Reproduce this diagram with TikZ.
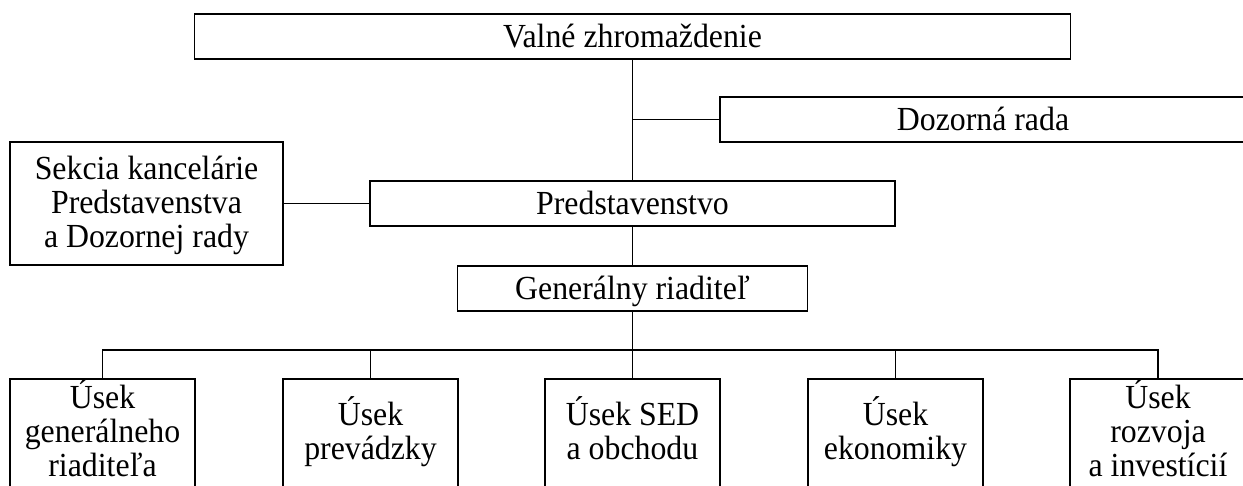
\documentclass[tikz,border=0pt]{standalone}
\usepackage{fontspec}
\setmainfont{Liberation Serif}[FakeStretch=0.944]
\usepackage{tikz}

\begin{document}
\begin{tikzpicture}[
            x = 1pt, y = -1pt, % one unit per pixel, y grows downwards
            line width = 1.7pt, % line style
            font = \fontsize{33.7}{34}\selectfont
        ]

        \tikzstyle{unit}=[
            draw = black,
            rectangle,
            align = center,
            inner sep = 0pt
        ]
        \tikzstyle{board}=[
            unit,
            minimum height = 45pt,
            text height = 22.3pt, % caps centred in the box
            text depth = 0pt
        ]
        \tikzstyle{section}=[
            unit,
            minimum height = 111pt,
            text depth = 12pt % lift the lines towards the top
        ]

        \useasboundingbox (0,0) rectangle (1243,486);

        \node[board, minimum width = 876pt] (vz) at (632.5,36.5) {Valné zhromaždenie};
        \node[board, minimum width = 526pt] (dr) at (983,119.5) {Dozorná rada};
        \node[board, minimum width = 525pt] (pr) at (632.5,203.5) {Predstavenstvo};
        \node[unit, minimum width = 273pt, minimum height = 123pt, text depth = 4pt] (sk) at (146.5,203.5)
            {Sekcia kancelárie\\Predstavenstva\\a Dozornej rady};
        \node[board, minimum width = 350pt] (gr) at (632.5,288.5) {Generálny riaditeľ};

        \node[section, minimum width = 185pt] (u1) at (102.5,434.5) {Úsek\\generálneho\\riaditeľa};
        \node[section, minimum width = 175pt] (u2) at (370.5,434.5) {Úsek\\prevádzky};
        \node[section, minimum width = 175pt] (u3) at (632.5,434.5) {Úsek SED\\a obchodu};
        \node[section, minimum width = 175pt] (u4) at (895.5,434.5) {Úsek\\ekonomiky};
        \node[section, minimum width = 176pt] (u5) at (1158,434.5) {Úsek\\rozvoja\\a investícií};

        \draw (vz.south) -- (pr.north);
        \draw (dr.west) -- (dr.west -| vz.south);
        \draw (sk.east) -- (pr.west);
        \draw (pr.south) -- (gr.north);
        \foreach \i in {1,...,5}
            \draw (gr.south) -- ++(0,38) -| (u\i.north);

\end{tikzpicture}
\end{document}
